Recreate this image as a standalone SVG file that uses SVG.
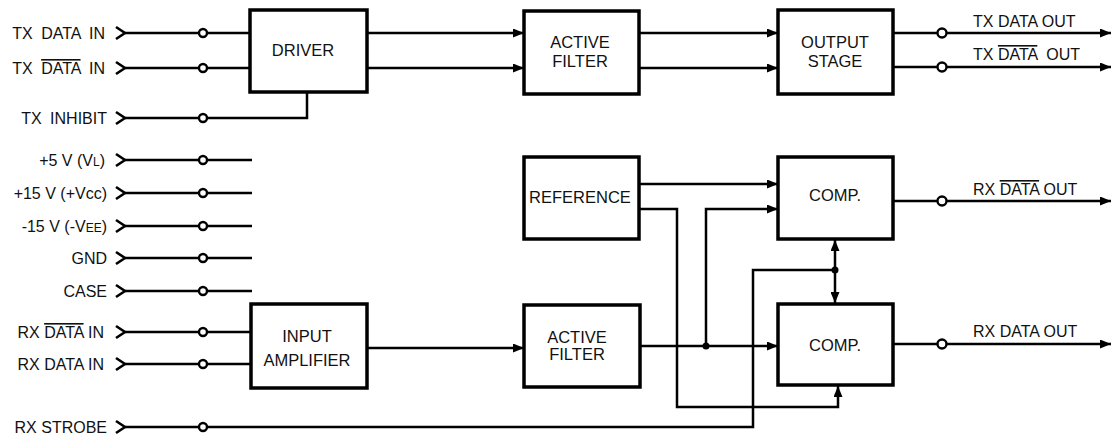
<svg xmlns="http://www.w3.org/2000/svg" width="1113" height="439" viewBox="0 0 1113 439">
<style>
  .box{fill:#fff;stroke:#000;stroke-width:3.5}
  .w{fill:none;stroke:#000;stroke-width:2.5}
  .chev{fill:none;stroke:#000;stroke-width:2.6}
  .pin{fill:#fff;stroke:#000;stroke-width:2.4}
  .lbl{font-family:"Liberation Sans",Arial,sans-serif;font-size:16px;fill:#111}
  .bt{font-family:"Liberation Sans",Arial,sans-serif;font-size:16.5px;fill:#111;text-anchor:middle}
  .l{text-anchor:end}
  .tx{word-spacing:4px}
  .ov{text-decoration:overline}
</style>
<defs>
  <marker id="ah" markerUnits="userSpaceOnUse" markerWidth="11" markerHeight="9" refX="11" refY="4.5" orient="auto">
    <path d="M0,0 L11,4.5 L0,9 z" fill="#000"/>
  </marker>
</defs>

<g id="connectors">
  <!-- TX inputs -->
  <polyline class="chev" points="116,27 125,33 116,39"/><line class="w" x1="125" y1="33" x2="250" y2="33"/>
  <polyline class="chev" points="116,62 125,68 116,74"/><line class="w" x1="125" y1="68" x2="250" y2="68"/>
  <polyline class="chev" points="116,112 125,118 116,124"/><polyline class="w" points="125,118 307,118 307,92"/>
  <!-- power -->
  <polyline class="chev" points="116,154 125,160 116,166"/><line class="w" x1="125" y1="160" x2="252" y2="160"/>
  <polyline class="chev" points="116,187 125,193 116,199"/><line class="w" x1="125" y1="193" x2="252" y2="193"/>
  <polyline class="chev" points="116,220 125,226 116,232"/><line class="w" x1="125" y1="226" x2="252" y2="226"/>
  <polyline class="chev" points="116,252 125,258 116,264"/><line class="w" x1="125" y1="258" x2="252" y2="258"/>
  <polyline class="chev" points="116,285 125,291 116,297"/><line class="w" x1="125" y1="291" x2="252" y2="291"/>
  <!-- RX inputs -->
  <polyline class="chev" points="116,326 125,332 116,338"/><line class="w" x1="125" y1="332" x2="250" y2="332"/>
  <polyline class="chev" points="116,358 125,364 116,370"/><line class="w" x1="125" y1="364" x2="250" y2="364"/>
  <polyline class="chev" points="116,421 125,427 116,433"/><polyline class="w" points="125,427 753,427 753,270 835,270"/>
  <!-- TX chain -->
  <line class="w" x1="367" y1="33" x2="524" y2="33" marker-end="url(#ah)"/>
  <line class="w" x1="367" y1="68" x2="524" y2="68" marker-end="url(#ah)"/>
  <line class="w" x1="639" y1="33" x2="778" y2="33" marker-end="url(#ah)"/>
  <line class="w" x1="639" y1="68" x2="778" y2="68" marker-end="url(#ah)"/>
  <line class="w" x1="893" y1="33" x2="1111" y2="33" marker-end="url(#ah)"/>
  <line class="w" x1="893" y1="67" x2="1111" y2="67" marker-end="url(#ah)"/>
  <!-- RX chain -->
  <line class="w" x1="367" y1="348" x2="524" y2="348" marker-end="url(#ah)"/>
  <line class="w" x1="640" y1="346" x2="778" y2="346" marker-end="url(#ah)"/>
  <polyline class="w" points="706,346 706,209 778,209" marker-end="url(#ah)"/>
  <line class="w" x1="639" y1="184" x2="778" y2="184" marker-end="url(#ah)"/>
  <polyline class="w" points="639,209 677,209 677,407 838,407 838,386" marker-end="url(#ah)"/>
  <line class="w" x1="835" y1="270" x2="835" y2="240" marker-end="url(#ah)"/>
  <line class="w" x1="835" y1="270" x2="835" y2="303" marker-end="url(#ah)"/>
  <circle cx="706" cy="346" r="3.5" fill="#000"/>
  <circle cx="835" cy="270" r="3.5" fill="#000"/>
  <line class="w" x1="893" y1="201" x2="1111" y2="201" marker-end="url(#ah)"/>
  <line class="w" x1="893" y1="344" x2="1111" y2="344" marker-end="url(#ah)"/>
  <!-- pins -->
  <circle class="pin" cx="203" cy="33" r="4"/>
  <circle class="pin" cx="203" cy="68" r="4"/>
  <circle class="pin" cx="203" cy="118" r="4"/>
  <circle class="pin" cx="203" cy="160" r="4"/>
  <circle class="pin" cx="203" cy="193" r="4"/>
  <circle class="pin" cx="203" cy="226" r="4"/>
  <circle class="pin" cx="203" cy="258" r="4"/>
  <circle class="pin" cx="203" cy="291" r="4"/>
  <circle class="pin" cx="203" cy="332" r="4"/>
  <circle class="pin" cx="203" cy="364" r="4"/>
  <circle class="pin" cx="203" cy="427" r="4"/>
  <circle class="pin" cx="942" cy="33" r="4.5"/>
  <circle class="pin" cx="942" cy="67" r="4.5"/>
  <circle class="pin" cx="942" cy="201" r="4.5"/>
  <circle class="pin" cx="942" cy="344" r="4.5"/>
</g>

<g id="labels">
  <text class="lbl l tx" x="105" y="39">TX DATA IN</text>
  <text class="lbl l tx" x="105" y="74">TX <tspan class="ov">DATA</tspan> IN</text>
  <text class="lbl l tx" x="107" y="124">TX INHIBIT</text>
  <text class="lbl l" x="105" y="166">+5 V (V<tspan font-size="12">L</tspan>)</text>
  <text class="lbl l" x="107" y="199">+15 V (+Vcc)</text>
  <text class="lbl l" x="107" y="232">-15 V (-V<tspan font-size="12">EE</tspan>)</text>
  <text class="lbl l" x="107" y="264">GND</text>
  <text class="lbl l" x="107" y="297">CASE</text>
  <text class="lbl l" x="104" y="338">RX <tspan class="ov">DATA</tspan> IN</text>
  <text class="lbl l" x="104" y="370">RX DATA IN</text>
  <text class="lbl l" x="107" y="433">RX STROBE</text>
  <text class="lbl" x="973" y="27">TX DATA OUT</text>
  <text class="lbl" x="973" y="60" xml:space="preserve">TX <tspan class="ov">DATA</tspan>  OUT</text>
  <text class="lbl" x="973" y="195">RX <tspan class="ov">DATA</tspan> OUT</text>
  <text class="lbl" x="973" y="337">RX DATA OUT</text>
</g>

<g id="driver"><rect class="box" x="250" y="10" width="117" height="82"/><text class="bt" x="303" y="56">DRIVER</text></g>
<g id="active-filter-tx"><rect class="box" x="524" y="11" width="115" height="83"/><text class="bt" x="580" y="48">ACTIVE</text><text class="bt" x="580" y="67">FILTER</text></g>
<g id="output-stage"><rect class="box" x="778" y="10" width="115" height="84"/><text class="bt" x="835" y="48">OUTPUT</text><text class="bt" x="835" y="67">STAGE</text></g>
<g id="reference"><rect class="box" x="524" y="157" width="115" height="82"/><text class="bt" x="580" y="203">REFERENCE</text></g>
<g id="comp-1"><rect class="box" x="778" y="157" width="115" height="82"/><text class="bt" x="835" y="201">COMP.</text></g>
<g id="input-amplifier"><rect class="box" x="251" y="304" width="116" height="84"/><text class="bt" x="307" y="342">INPUT</text><text class="bt" x="307" y="366">AMPLIFIER</text></g>
<g id="active-filter-rx"><rect class="box" x="524" y="305" width="116" height="82"/><text class="bt" x="577" y="343">ACTIVE</text><text class="bt" x="577" y="360">FILTER</text></g>
<g id="comp-2"><rect class="box" x="778" y="304" width="115" height="81"/><text class="bt" x="835" y="351">COMP.</text></g>
</svg>
